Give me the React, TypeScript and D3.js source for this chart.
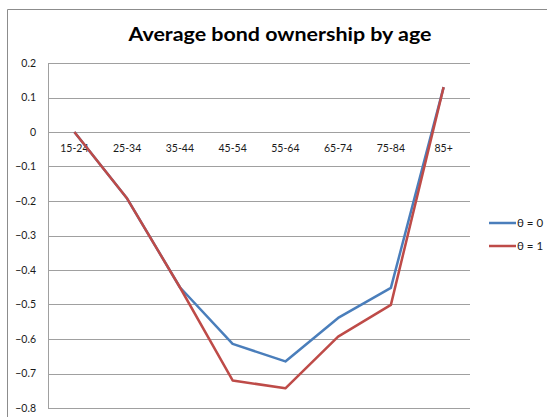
import React from "react";
import * as d3 from "d3";

const categories = ["15-24", "25-34", "35-44", "45-54", "55-64", "65-74", "75-84", "85+"];
const theta0 = [0, -0.193, -0.45, -0.614, -0.665, -0.539, -0.452, 0.13];
const theta1 = [0, -0.193, -0.45, -0.72, -0.743, -0.593, -0.501, 0.13];
const yTicks = [0.2, 0.1, 0, -0.1, -0.2, -0.3, -0.4, -0.5, -0.6, -0.7, -0.8];
const seriesNames = ["θ = 0", "θ = 1"];
const colors = ["#4a7ebb", "#be4b48"];

export default function App() {
  const W = 547, H = 417;
  const x = d3.scaleBand<string>().domain(categories).range([48, 470]);
  const y = d3.scaleLinear().domain([-0.8, 0.2]).range([408, 63]);
  const line = d3
    .line<number>()
    .x((_, i) => (x(categories[i]) as number) + x.bandwidth() / 2)
    .y((d) => y(d));
  const font = "Lato, 'Open Sans', sans-serif";
  const fmt = (v: number) => (v === 0 ? "0" : d3.format(".1f")(v));
  return (
    <svg width={W} height={H} style={{ position: "absolute", left: 0, top: 0 }}>
      <rect x={0} y={0} width={W} height={H} fill="#fff" />
      <path d={`M7.5,${H} V9.5 H${W}`} fill="none" stroke="#8c8c8c" strokeWidth={1} />
      <text x={280} y={41} textAnchor="middle" fontFamily={font} fontWeight="bold" fontSize={19} fill="#000" textLength={303} lengthAdjust="spacingAndGlyphs">
        Average bond ownership by age
      </text>
      {yTicks.map((t) => (
        <g key={t}>
          <line x1={48} x2={470} y1={Math.round(y(t)) + 0.5} y2={Math.round(y(t)) + 0.5} stroke="#a0a0a0" strokeWidth={1} />
          <text x={36} y={y(t) + 3.5} textAnchor="end" fontFamily={font} fontSize={10.5} fill="#1a1a1a">
            {fmt(t)}
          </text>
        </g>
      ))}
      <line x1={48.5} x2={48.5} y1={63} y2={408} stroke="#a0a0a0" strokeWidth={1} />
      {categories.map((c) => (
        <text key={c} x={(x(c) as number) + x.bandwidth() / 2} y={y(0) + 20} textAnchor="middle" fontFamily={font} fontSize={10.5} fill="#1a1a1a">
          {c}
        </text>
      ))}
      {[theta0, theta1].map((s, i) => (
        <path key={i} d={line(s) || ""} fill="none" stroke={colors[i]} strokeWidth={2.5} strokeLinejoin="round" />
      ))}
      {seriesNames.map((n, i) => (
        <g key={n}>
          <line x1={489} x2={516} y1={223 + i * 23} y2={223 + i * 23} stroke={colors[i]} strokeWidth={2.5} />
          <text x={517} y={227 + i * 23} fontFamily={font} fontSize={11.5} fill="#1a1a1a">
            {n}
          </text>
        </g>
      ))}
    </svg>
  );
}
